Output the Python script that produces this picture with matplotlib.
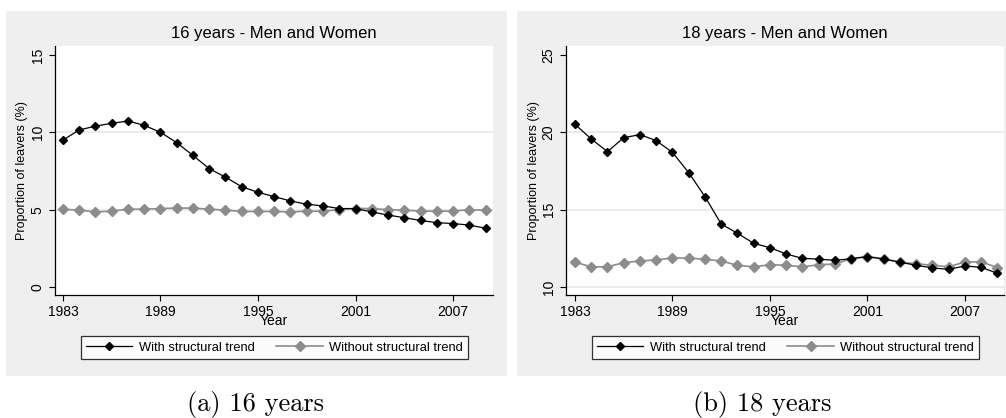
import matplotlib.pyplot as plt
from matplotlib.patches import Rectangle

years = list(range(1983, 2010))

# 16 years old, proportion of leavers (%)
with_trend_16 = [9.50, 10.15, 10.40, 10.58, 10.73, 10.45, 10.00, 9.33, 8.50, 7.65,
                 7.10, 6.48, 6.12, 5.84, 5.56, 5.35, 5.24, 5.07, 5.07, 4.85,
                 4.65, 4.48, 4.30, 4.16, 4.10, 4.00, 3.80]
without_trend_16 = [5.02, 4.97, 4.85, 4.90, 5.03, 5.03, 5.07, 5.10, 5.10, 5.03,
                    4.97, 4.88, 4.88, 4.88, 4.85, 4.90, 4.90, 5.00, 5.07, 5.07,
                    5.00, 4.97, 4.90, 4.90, 4.90, 5.00, 4.95]

# 18 years old
with_trend_18 = [20.52, 19.57, 18.75, 19.65, 19.85, 19.46, 18.70, 17.39, 15.84, 14.07,
                 13.47, 12.82, 12.54, 12.13, 11.85, 11.80, 11.72, 11.83, 11.96, 11.80,
                 11.60, 11.40, 11.23, 11.14, 11.36, 11.27, 10.88]
without_trend_18 = [11.60, 11.30, 11.30, 11.57, 11.68, 11.75, 11.87, 11.87, 11.79, 11.68,
                    11.40, 11.30, 11.44, 11.40, 11.30, 11.44, 11.48, 11.83, 11.96, 11.83,
                    11.60, 11.50, 11.40, 11.30, 11.62, 11.62, 11.25]

xticks = [1983, 1989, 1995, 2001, 2007]
yticks_16 = [0, 5, 10, 15]
yticks_18 = [10, 15, 20, 25]
grid_16 = [5, 10]
grid_18 = [10, 15, 20]

W, H = 1006, 418
SANS = ['Liberation Sans', 'DejaVu Sans']
BG = '#efefef'

fig = plt.figure(figsize=(W / 100, H / 100), dpi=100)
fig.patch.set_facecolor('white')


def box(x0, y0, x1, y1):
    # pixel box -> figure fraction [left, bottom, width, height]
    return [x0 / W, 1 - y1 / H, (x1 - x0) / W, (y1 - y0) / H]


# grey Stata-style graph regions, kept behind the axes
for x0, x1 in [(6, 507), (517, 1006)]:
    l, b, w, h = box(x0, 11, x1, 376)
    fig.patches.append(Rectangle((l, b), w, h, transform=fig.transFigure,
                                 facecolor=BG, edgecolor='none', zorder=-10))

panels = [
    dict(rect=box(55, 46, 493, 295), title='16 years - Men and Women',
         a=with_trend_16, b=without_trend_16, yticks=yticks_16, grid=grid_16,
         ylim=(-0.52, 15.58), xlim=(1982.51, 2009.46),
         legend=box(79, 335, 470, 360), caption='(a) 16 years', cx=256),
    dict(rect=box(566, 46, 1004, 295), title='18 years - Men and Women',
         a=with_trend_18, b=without_trend_18, yticks=yticks_18, grid=grid_18,
         ylim=(9.48, 25.58), xlim=(1982.45, 2009.4),
         legend=box(590, 335, 981, 360), caption='(b) 18 years', cx=762),
]

for p in panels:
    ax = fig.add_axes(p['rect'])
    ax.set_facecolor('white')
    for g in p['grid']:
        ax.axhline(g, color='#ebebeb', lw=1.3, zorder=1)
    l1, = ax.plot(years, p['a'], color='black', lw=0.9, marker='D', ms=4,
                  mfc='black', mec='black', zorder=4, label='With structural trend')
    l2, = ax.plot(years, p['b'], color='#8c8c8c', lw=1.2, marker='D', ms=5.5,
                  mfc='#8c8c8c', mec='#8c8c8c', zorder=3, label='Without structural trend')
    ax.set_xlim(*p['xlim'])
    ax.set_ylim(*p['ylim'])
    ax.set_xticks(xticks)
    ax.set_yticks(p['yticks'])
    for s in ['top', 'right']:
        ax.spines[s].set_visible(False)
    for s in ['left', 'bottom']:
        ax.spines[s].set_color('black')
        ax.spines[s].set_linewidth(0.9)
    ax.tick_params(axis='both', length=4, width=0.8, colors='black', labelsize=10)
    for lab in ax.get_xticklabels() + ax.get_yticklabels():
        lab.set_family(SANS)
    for lab in ax.get_yticklabels():
        lab.set_rotation(90)
        lab.set_va('center')
    ax.set_title(p['title'], fontsize=12, family=SANS, pad=6)
    ax.set_xlabel('Year', fontsize=10, family=SANS, labelpad=-4)
    ax.set_ylabel('Proportion of leavers (%)', fontsize=9, family=SANS, labelpad=1.5)

    lax = fig.add_axes(p['legend'])
    lax.axis('off')
    leg = lax.legend([l1, l2], [l1.get_label(), l2.get_label()], loc='center', ncol=2,
                     frameon=True, fancybox=False, handlelength=3.6, columnspacing=1.7,
                     handletextpad=0.5, borderpad=0.4, borderaxespad=0,
                     prop={'family': SANS, 'size': 9.3})
    leg.get_frame().set_edgecolor('black')
    leg.get_frame().set_linewidth(0.9)

    fig.text(p['cx'] / W, 1 - 404 / H, p['caption'], ha='center', va='center',
             fontsize=19, family=['cmr10', 'DejaVu Serif'])

fig.savefig('out.png', dpi=100)
